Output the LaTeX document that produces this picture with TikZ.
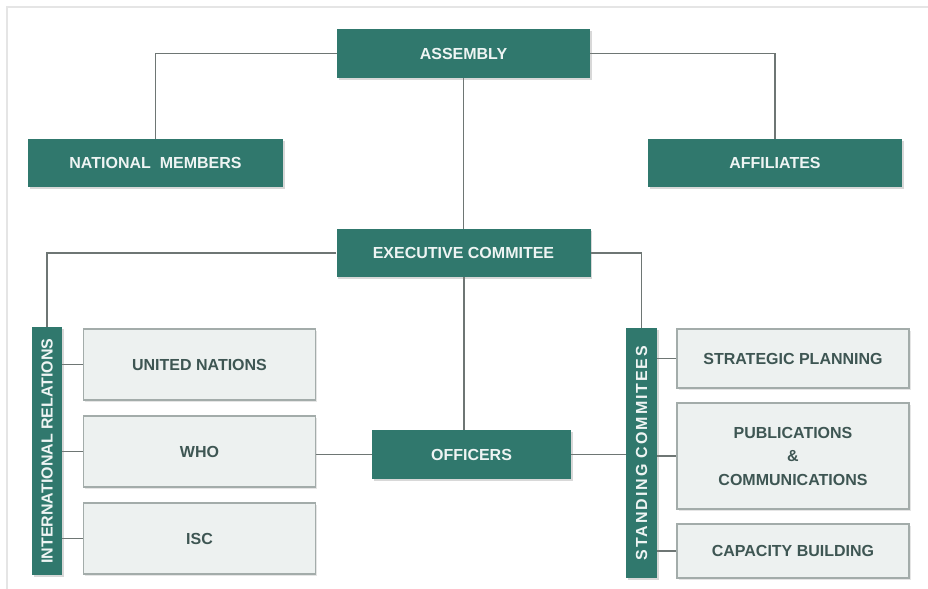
\documentclass[tikz,border=0pt]{standalone}
\usepackage{fontspec}
\setmainfont{Liberation Sans}
\usetikzlibrary{shadows,backgrounds}

\definecolor{orgteal}{HTML}{30786D}
\definecolor{orgpale}{HTML}{EDF1F0}
\definecolor{orgrim}{HTML}{A3ACAA}
\definecolor{orgink}{HTML}{3E5653}
\definecolor{orgline}{HTML}{6E7674}

\tikzset{
  darkbox/.style={fill=orgteal, text=white!92!orgteal, inner sep=0pt,
    font=\bfseries\fontsize{8}{9.5}\selectfont,
    drop shadow={opacity=0.3, shadow xshift=0.8pt, shadow yshift=-0.8pt}},
  lightbox/.style={fill=orgpale, draw=orgrim, line width=0.6pt, text=orgink,
    inner sep=0pt, minimum width=116pt, align=center,
    font=\bfseries\fontsize{8}{11.75}\selectfont,
    drop shadow={opacity=0.2, shadow xshift=0.8pt, shadow yshift=-0.8pt}},
  barlabel/.style={rotate=90, text=white!92!orgteal, font=\bfseries\fontsize{8}{9.5}\selectfont},
  link/.style={draw=orgline, line width=0.75pt}
}

\begin{document}
\begin{tikzpicture}[x=0.5pt, y=-0.5pt]
\useasboundingbox (0,0) rectangle (928,589);
\draw[black!10, line width=0.6pt] (928,7) -- (7,7) -- (7,589);

% top level
\node[darkbox, minimum width=126.5pt, minimum height=24.5pt] (asm) at (463.5,53.5) {ASSEMBLY};
\node[darkbox, minimum width=127.5pt, minimum height=24pt] (nat) at (155.5,163) {NATIONAL\ \ MEMBERS};
\node[darkbox, minimum width=127pt, minimum height=24pt] (aff) at (775,163) {AFFILIATES};
\node[darkbox, minimum width=127pt, minimum height=24pt] (exe) at (463.5,253) {EXECUTIVE COMMITEE};
\node[darkbox, minimum width=99.5pt, minimum height=24.5pt] (off) at (471.5,454.5) {OFFICERS};

% side bars
\node[darkbox, minimum width=15pt, minimum height=124pt,
  label={[barlabel]center:INTERNATIONAL RELATIONS}] (ir) at (47,451) {};
\node[darkbox, minimum width=15.5pt, minimum height=125pt,
  label={[barlabel]center:{\addfontfeatures{LetterSpace=12}STANDING COMMITEES}}] (sc) at (641.5,453) {};

% left boxes
\node[lightbox, minimum height=35.5pt] (un) at (199.5,364.5) {UNITED NATIONS};
\node[lightbox, minimum height=35.5pt] (who) at (199.5,451.5) {WHO};
\node[lightbox, minimum height=35.5pt] (isc) at (199.5,538.5) {ISC};

% right boxes
\node[lightbox, minimum height=29.5pt] (stp) at (793,358.5) {STRATEGIC PLANNING};
\node[lightbox, minimum height=53pt] (pub) at (793,456) {PUBLICATIONS\\\&\\COMMUNICATIONS};
\node[lightbox, minimum height=27pt] (cap) at (793,551) {CAPACITY BUILDING};

% connectors
\begin{scope}[on background layer]
\fill[white] (0,0) rectangle (928,589);
\draw[link] (asm.west) -| (nat.north);
\draw[link] (asm.east) -| (aff.north);
\draw[link] (asm) -- (exe);
\draw[link] (exe.west) -| (ir.north);
\draw[link] (exe.east) -| (sc.north);
\draw[link] (exe.south -| off.north) ++(-7.5,0) coordinate (exeS) -- (exeS |- off.north);
\draw[link] (off.west) -- (off.west -| who.east);
\draw[link] (off.east) -- (off.east -| sc.west);
\foreach \b in {un,who,isc}
  \draw[link] (\b.west) -- (\b.west -| ir.east);
\foreach \b in {stp,pub,cap}
  \draw[link] (\b.west) -- (\b.west -| sc.east);
\end{scope}
\end{tikzpicture}
\end{document}
